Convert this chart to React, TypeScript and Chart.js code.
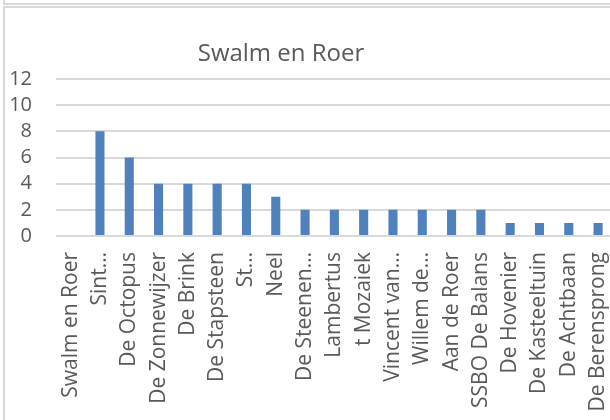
import React, { useEffect, useRef } from "react";
import { Chart, registerables } from "chart.js";

Chart.register(...registerables);

const TITLE = "Swalm en Roer";
const categories = [
  "Swalm en Roer",
  "Sint…",
  "De Octopus",
  "De Zonnewijzer",
  "De Brink",
  "De Stapsteen",
  "St…",
  "Neel",
  "De Steenen…",
  "Lambertus",
  "t Mozaiek",
  "Vincent van…",
  "Willem de…",
  "Aan de Roer",
  "SSBO De Balans",
  "De Hovenier",
  "De Kasteeltuin",
  "De Achtbaan",
  "De Berensprong",
];
const values = [0, 8, 6, 4, 4, 4, 4, 3, 2, 2, 2, 2, 2, 2, 2, 1, 1, 1, 1];
const yTicks = [0, 2, 4, 6, 8, 10, 12];

const FONT = "'Open Sans'";
const TEXT = "#595959";
const GRID = "#d9d9d9";
const BAR = "#4F81BD";

const titlePlugin = {
  id: "fixedTitle",
  afterDraw(chart: any) {
    const ctx = chart.ctx;
    ctx.save();
    ctx.font = `24px ${FONT}`;
    ctx.fillStyle = TEXT;
    ctx.textAlign = "center";
    ctx.textBaseline = "alphabetic";
    ctx.fillText(TITLE, 281, 61);
    ctx.restore();
  },
};

export default function App() {
  const ref = useRef<HTMLCanvasElement | null>(null);

  useEffect(() => {
    if (!ref.current) return;
    const chart = new Chart(ref.current, {
      type: "bar",
      data: {
        labels: categories,
        datasets: [
          {
            data: values,
            backgroundColor: BAR,
            borderWidth: 0,
            barPercentage: 1,
            categoryPercentage: 0.31,
          },
        ],
      },
      options: {
        animation: false,
        responsive: false,
        devicePixelRatio: 1,
        layout: { padding: { top: 79, right: 27, left: 0, bottom: 0 } },
        plugins: {
          legend: { display: false },
          title: { display: false },
          tooltip: { enabled: false },
        },
        scales: {
          x: {
            grid: { display: false, drawTicks: false },
            border: { display: false },
            ticks: {
              autoSkip: false,
              minRotation: 90,
              maxRotation: 90,
              padding: 16,
              color: TEXT,
              font: { family: FONT, size: 21 },
            },
            afterFit(scale: any) {
              scale.height = 204;
            },
          },
          y: {
            min: 0,
            max: 12,
            afterBuildTicks(scale: any) {
              scale.ticks = yTicks.map((v) => ({ value: v }));
            },
            grid: { color: GRID, lineWidth: 2, drawTicks: false },
            border: { display: false },
            ticks: {
              autoSkip: false,
              padding: 24,
              color: TEXT,
              font: { family: FONT, size: 20 },
            },
            afterFit(scale: any) {
              scale.width = 56;
            },
          },
        },
      },
      plugins: [titlePlugin],
    });
    return () => chart.destroy();
  }, []);

  return (
    <div
      style={{
        position: "fixed",
        left: 0,
        top: 0,
        width: 610,
        height: 420,
        overflow: "hidden",
        background: "#fff",
      }}
    >
      <div
        style={{
          position: "absolute",
          left: 3,
          top: -20,
          width: 700,
          height: 25,
          boxSizing: "border-box",
          border: `2px solid ${GRID}`,
        }}
      />
      <div
        style={{
          position: "absolute",
          left: 3,
          top: 6,
          width: 700,
          height: 500,
          boxSizing: "border-box",
          border: `2px solid ${GRID}`,
        }}
      />
      <canvas
        ref={ref}
        width={640}
        height={440}
        style={{ position: "absolute", left: 0, top: 0, width: 640, height: 440 }}
      />
    </div>
  );
}
